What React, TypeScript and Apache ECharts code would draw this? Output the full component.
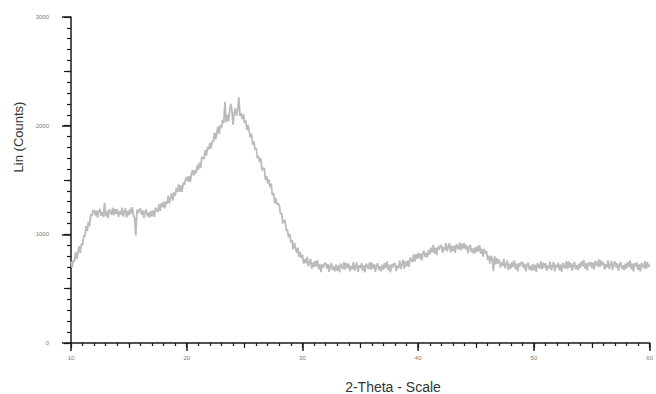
import React, { useEffect, useRef } from "react";
import * as echarts from "echarts";

// 2-Theta grid: start and step of the scan (degrees)
const ANGLE_START = 10;
const ANGLE_STEP = 0.1;

// Intensity (Lin Counts), one value per 0.1° (rows = 1°)
const COUNTS: number[] = [
  750, 695, 760, 750, 835, 775, 835, 890, 830, 915, // 10
  900, 990, 980, 1075, 1030, 1115, 1075, 1180, 1170, 1220, // 11
  1220, 1175, 1220, 1155, 1210, 1235, 1170, 1205, 1160, 1290, // 12
  1165, 1215, 1150, 1230, 1205, 1180, 1245, 1175, 1235, 1190, // 13
  1230, 1160, 1210, 1180, 1245, 1165, 1205, 1240, 1155, 1215, // 14
  1175, 1235, 1190, 1250, 1170, 1150, 990, 1225, 1195, 1230, // 15
  1235, 1180, 1220, 1150, 1205, 1230, 1165, 1200, 1155, 1215, // 16
  1165, 1220, 1160, 1245, 1225, 1205, 1275, 1215, 1285, 1250, // 17
  1300, 1240, 1300, 1280, 1355, 1285, 1335, 1380, 1310, 1385, // 18
  1355, 1425, 1390, 1460, 1390, 1450, 1390, 1475, 1455, 1505, // 19
  1530, 1485, 1535, 1480, 1550, 1590, 1540, 1590, 1560, 1635, // 20
  1595, 1660, 1610, 1710, 1705, 1695, 1775, 1725, 1805, 1780, // 21
  1840, 1790, 1860, 1850, 1935, 1875, 1935, 1990, 1925, 2005, // 22
  1980, 2055, 2025, 2220, 2035, 2100, 2040, 2125, 2200, 2150, // 23
  2010, 2115, 2160, 2090, 2140, 2260, 2090, 2115, 2060, 2105, // 24
  2025, 2050, 1960, 2005, 1945, 1890, 1925, 1825, 1855, 1780, // 25
  1795, 1700, 1720, 1665, 1700, 1590, 1605, 1610, 1500, 1535, // 26
  1470, 1505, 1433, 1466, 1359, 1382, 1285, 1333, 1276, 1284, // 27
  1267, 1185, 1198, 1101, 1129, 1127, 1035, 1043, 971, 1005, // 28
  925, 950, 862, 920, 875, 830, 878, 793, 839, 782, // 29
  810, 730, 772, 735, 793, 707, 743, 774, 685, 742, // 30
  699, 755, 706, 762, 679, 726, 653, 725, 695, 730, // 31
  740, 685, 725, 655, 710, 735, 670, 705, 660, 720, // 32
  665, 715, 650, 730, 705, 680, 745, 675, 735, 690, // 33
  730, 660, 710, 680, 745, 665, 705, 740, 655, 715, // 34
  690, 735, 665, 715, 650, 730, 705, 680, 745, 675, // 35
  740, 685, 725, 655, 710, 735, 670, 705, 660, 720, // 36
  675, 735, 690, 750, 670, 720, 650, 725, 695, 730, // 37
  730, 662, 715, 688, 757, 681, 725, 765, 685, 750, // 38
  705, 760, 700, 785, 765, 745, 815, 750, 815, 775, // 39
  830, 780, 825, 760, 820, 850, 790, 830, 790, 855, // 40
  813, 877, 836, 900, 823, 876, 809, 887, 859, 896, // 41
  898, 830, 882, 854, 921, 843, 885, 920, 835, 895, // 42
  845, 895, 830, 910, 885, 860, 925, 855, 915, 870, // 43
  918, 861, 899, 827, 880, 903, 836, 869, 822, 880, // 44
  833, 891, 844, 902, 820, 868, 796, 865, 825, 845, // 45
  765, 805, 730, 802, 771, 660, 800, 725, 781, 732, // 46
  768, 695, 742, 709, 771, 688, 725, 758, 671, 729, // 47
  685, 745, 700, 760, 680, 730, 660, 735, 705, 740, // 48
  745, 690, 730, 660, 715, 740, 675, 710, 665, 725, // 49
  670, 720, 655, 735, 710, 685, 750, 680, 740, 695, // 50
  735, 665, 715, 685, 750, 670, 710, 745, 660, 720, // 51
  695, 740, 670, 720, 655, 735, 710, 685, 750, 680, // 52
  750, 695, 735, 665, 720, 745, 680, 715, 670, 730, // 53
  690, 750, 705, 765, 685, 735, 665, 740, 710, 745, // 54
  690, 740, 675, 755, 730, 705, 770, 700, 760, 715, // 55
  745, 675, 725, 695, 760, 680, 720, 755, 670, 730, // 56
  750, 695, 735, 665, 720, 745, 680, 715, 670, 730, // 57
  685, 745, 700, 760, 680, 730, 660, 735, 705, 740, // 58
  673, 723, 658, 738, 713, 688, 753, 683, 743, 698, // 59
  720, // 60
];

const X_MIN = 10;
const X_MAX = 60;
const Y_MIN = 0;
const Y_MAX = 3000;
const X_TITLE = "2-Theta - Scale";
const Y_TITLE = "Lin (Counts)";

export default function App() {
  const ref = useRef<HTMLDivElement>(null);
  useEffect(() => {
    if (!ref.current) return;
    const chart = echarts.init(ref.current, null, { renderer: "svg" });
    const data = COUNTS.map((c, i) => [
      +(ANGLE_START + i * ANGLE_STEP).toFixed(2),
      c,
    ]);
    const axisColor = "#1a1a1a";
    const labelStyle = {
      fontSize: 6,
      color: "#7a7a7a",
      fontFamily: "Liberation Sans, Arial, sans-serif",
      formatter: (v: number) => String(v),
    };
    chart.setOption({
      animation: false,
      backgroundColor: "#ffffff",
      grid: { left: 71, right: 3, top: 17, bottom: 51 },
      xAxis: [
        {
          type: "value",
          min: X_MIN,
          max: X_MAX,
          interval: 10,
          position: "bottom",
          axisLine: { show: true, lineStyle: { color: axisColor, width: 1.5 } },
          axisTick: { show: true, length: 8, lineStyle: { color: axisColor, width: 1.5 } },
          minorTick: { show: true, splitNumber: 10, length: 3, lineStyle: { color: axisColor, width: 1.2 } },
          axisLabel: { ...labelStyle, margin: 12 },
          splitLine: { show: false },
          minorSplitLine: { show: false },
        },
        {
          type: "value",
          min: X_MIN,
          max: X_MAX,
          interval: 5,
          position: "bottom",
          axisLine: { show: false },
          axisTick: { show: true, length: 5, lineStyle: { color: axisColor, width: 1.2 } },
          axisLabel: { show: false },
          splitLine: { show: false },
        },
      ],
      yAxis: [
        {
          type: "value",
          min: Y_MIN,
          max: Y_MAX,
          interval: 1000,
          position: "left",
          axisLine: { show: true, lineStyle: { color: axisColor, width: 1.5 } },
          axisTick: { show: true, length: 9, lineStyle: { color: axisColor, width: 1.5 } },
          minorTick: { show: true, splitNumber: 10, length: 4, lineStyle: { color: axisColor, width: 1.2 } },
          axisLabel: { ...labelStyle, margin: 22 },
          splitLine: { show: false },
          minorSplitLine: { show: false },
        },
        {
          type: "value",
          min: Y_MIN,
          max: Y_MAX,
          interval: 500,
          position: "left",
          axisLine: { show: false },
          axisTick: { show: true, length: 7, lineStyle: { color: axisColor, width: 1.2 } },
          axisLabel: { show: false },
          splitLine: { show: false },
        },
      ],
      series: [
        {
          type: "line",
          xAxisIndex: 0,
          yAxisIndex: 0,
          data,
          symbol: "none",
          smooth: false,
          lineStyle: { color: "#bbbbbb", width: 1.8 },
          z: 1,
        },
      ],
      graphic: [
        {
          type: "text",
          x: 18,
          y: 137,
          rotation: Math.PI / 2,
          style: {
            text: Y_TITLE,
            fontSize: 13,
            fill: "#333333",
            fontFamily: "Liberation Sans, Arial, sans-serif",
            align: "center",
            verticalAlign: "middle",
          },
        },
        {
          type: "text",
          x: 393,
          y: 387,
          style: {
            text: X_TITLE,
            fontSize: 14,
            fill: "#333333",
            fontFamily: "Liberation Sans, Arial, sans-serif",
            align: "center",
            verticalAlign: "middle",
          },
        },
      ],
    });
    return () => chart.dispose();
  }, []);
  return (
    <div
      ref={ref}
      style={{ position: "fixed", left: 0, top: 0, width: 656, height: 394 }}
    />
  );
}
